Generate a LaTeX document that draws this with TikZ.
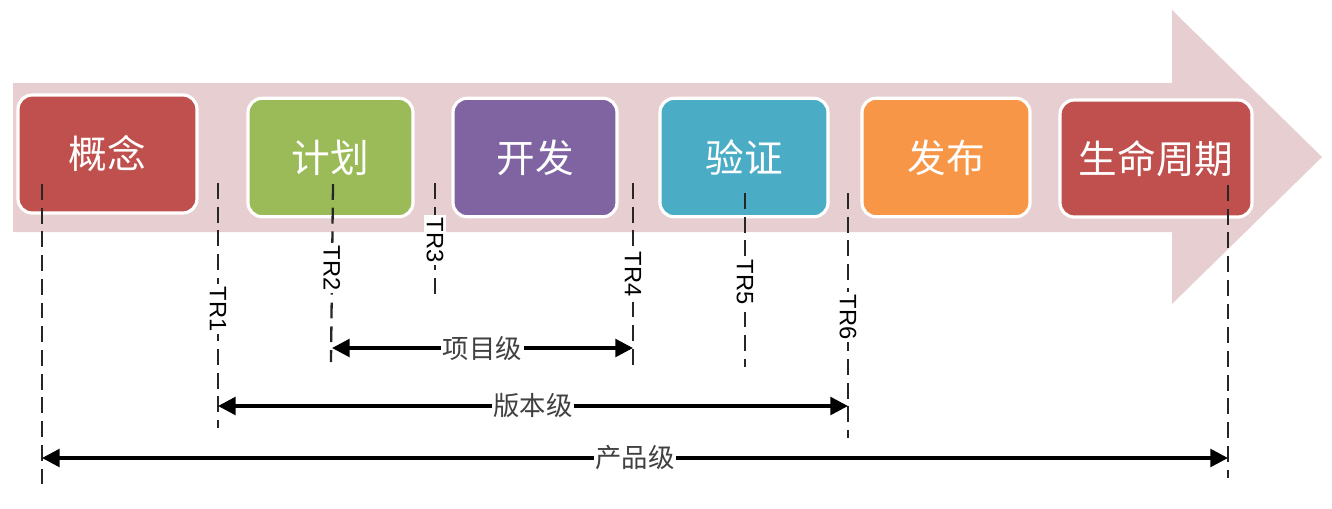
\documentclass[tikz,border=0pt]{standalone}
\usepackage{fontspec}
\newfontfamily\cjk{Noto Sans CJK SC}
\newfontfamily\latn{Liberation Sans}
\usetikzlibrary{arrows.meta,positioning}
\definecolor{bandpink}{RGB}{231,206,208}
\definecolor{phred}{RGB}{192,80,77}
\definecolor{phgreen}{RGB}{155,187,89}
\definecolor{phpurple}{RGB}{128,100,162}
\definecolor{phteal}{RGB}{75,172,198}
\definecolor{phorange}{RGB}{247,150,70}
\tikzset{
  phase/.style={draw=white,line width=1.8pt,rounded corners=8pt,text=white,inner sep=0pt,
    minimum height=2.37cm,font=\cjk\fontsize{22}{22}\selectfont},
  gate/.style={draw=black!85,line width=1.3pt,dash pattern=on 9pt off 4.5pt},
  trlabel/.style={fill=white,rotate=-90,inner sep=1.5pt,font=\latn\fontsize{13.5}{13.5}\selectfont},
  span/.style={{Triangle[length=10pt,width=10pt]}-{Triangle[length=10pt,width=10pt]},line width=2pt},
  spanlabel/.style={fill=white,text=black!75,inner xsep=1pt,inner ysep=0pt,font=\cjk\fontsize{15}{15}\selectfont}
}
\begin{document}
\begin{tikzpicture}[x=0.02cm,y=-0.02cm]
\useasboundingbox (0,0) rectangle (1332,508);
\fill[bandpink] (13,83) -- (1172,83) -- (1172,10) -- (1322,157) -- (1172,304) -- (1172,232) -- (13,232) -- cycle;
\node[phase,fill=phred,minimum width=3.58cm,minimum height=2.36cm] (gainian) at (107.5,154) {概念};
\node[phase,fill=phgreen,minimum width=3.30cm] (jihua) at (330.5,157.5) {计划};
\node[phase,fill=phpurple,minimum width=3.28cm] (kaifa) at (535,157.5) {开发};
\node[phase,fill=phteal,minimum width=3.36cm] (yanzheng) at (744,157.5) {验证};
\node[phase,fill=phorange,minimum width=3.36cm] (fabu) at (946,157.5) {发布};
\node[phase,fill=phred,minimum width=3.84cm,minimum height=2.34cm] (zhouqi) at (1156,158.5) {生命周期};
\coordinate (g0t) at (42,184);   \coordinate (g0b) at (42,488);
\coordinate (g1t) at (218,183);  \coordinate (g1b) at (218,428);
\coordinate (g2t) at (333,184);  \coordinate (g2b) at (331,362);
\coordinate (g3t) at (435,183);  \coordinate (g3b) at (435,300);
\coordinate (g4t) at (633,183);  \coordinate (g4b) at (633,365);
\coordinate (g5t) at (745,193);  \coordinate (g5b) at (745,367);
\coordinate (g6t) at (848,193);  \coordinate (g6b) at (848,438);
\coordinate (g7t) at (1228,185); \coordinate (g7b) at (1228,478);
\draw[gate] (g0t) -- (g0b);
\draw[gate] (g1t) -- (g1b);
\draw[gate] (g2t) -- (g2b);
\draw[gate] (g3t) -- (g3b);
\draw[gate] (g4t) -- (g4b);
\draw[gate] (g5t) -- (g5b);
\draw[gate] (g6t) -- (g6b);
\draw[gate] (g7t) -- (g7b);
\node[trlabel] (tr1) at (218,309) {TR1};
\node[trlabel] (tr2) at (332,268) {TR2};
\node[trlabel] (tr3) at (435,240) {TR3};
\node[trlabel] (tr4) at (633,274) {TR4};
\node[trlabel] (tr5) at (745,282) {TR5};
\node[trlabel] (tr6) at (848,317) {TR6};
\coordinate (xm1) at (332,348);  \coordinate (xm2) at (633,348);
\coordinate (bb1) at (218,406);  \coordinate (bb2) at (848,406);
\coordinate (cp1) at (42,458);   \coordinate (cp2) at (1228,458);
\draw[span] (xm1) -- node[spanlabel] (xiangmu) {项目级} (xm2);
\draw[span] (bb1) -- node[spanlabel] (banben) {版本级} (bb2);
\draw[span] (cp1) -- node[spanlabel] (chanpin) {产品级} (cp2);
\end{tikzpicture}
\end{document}
